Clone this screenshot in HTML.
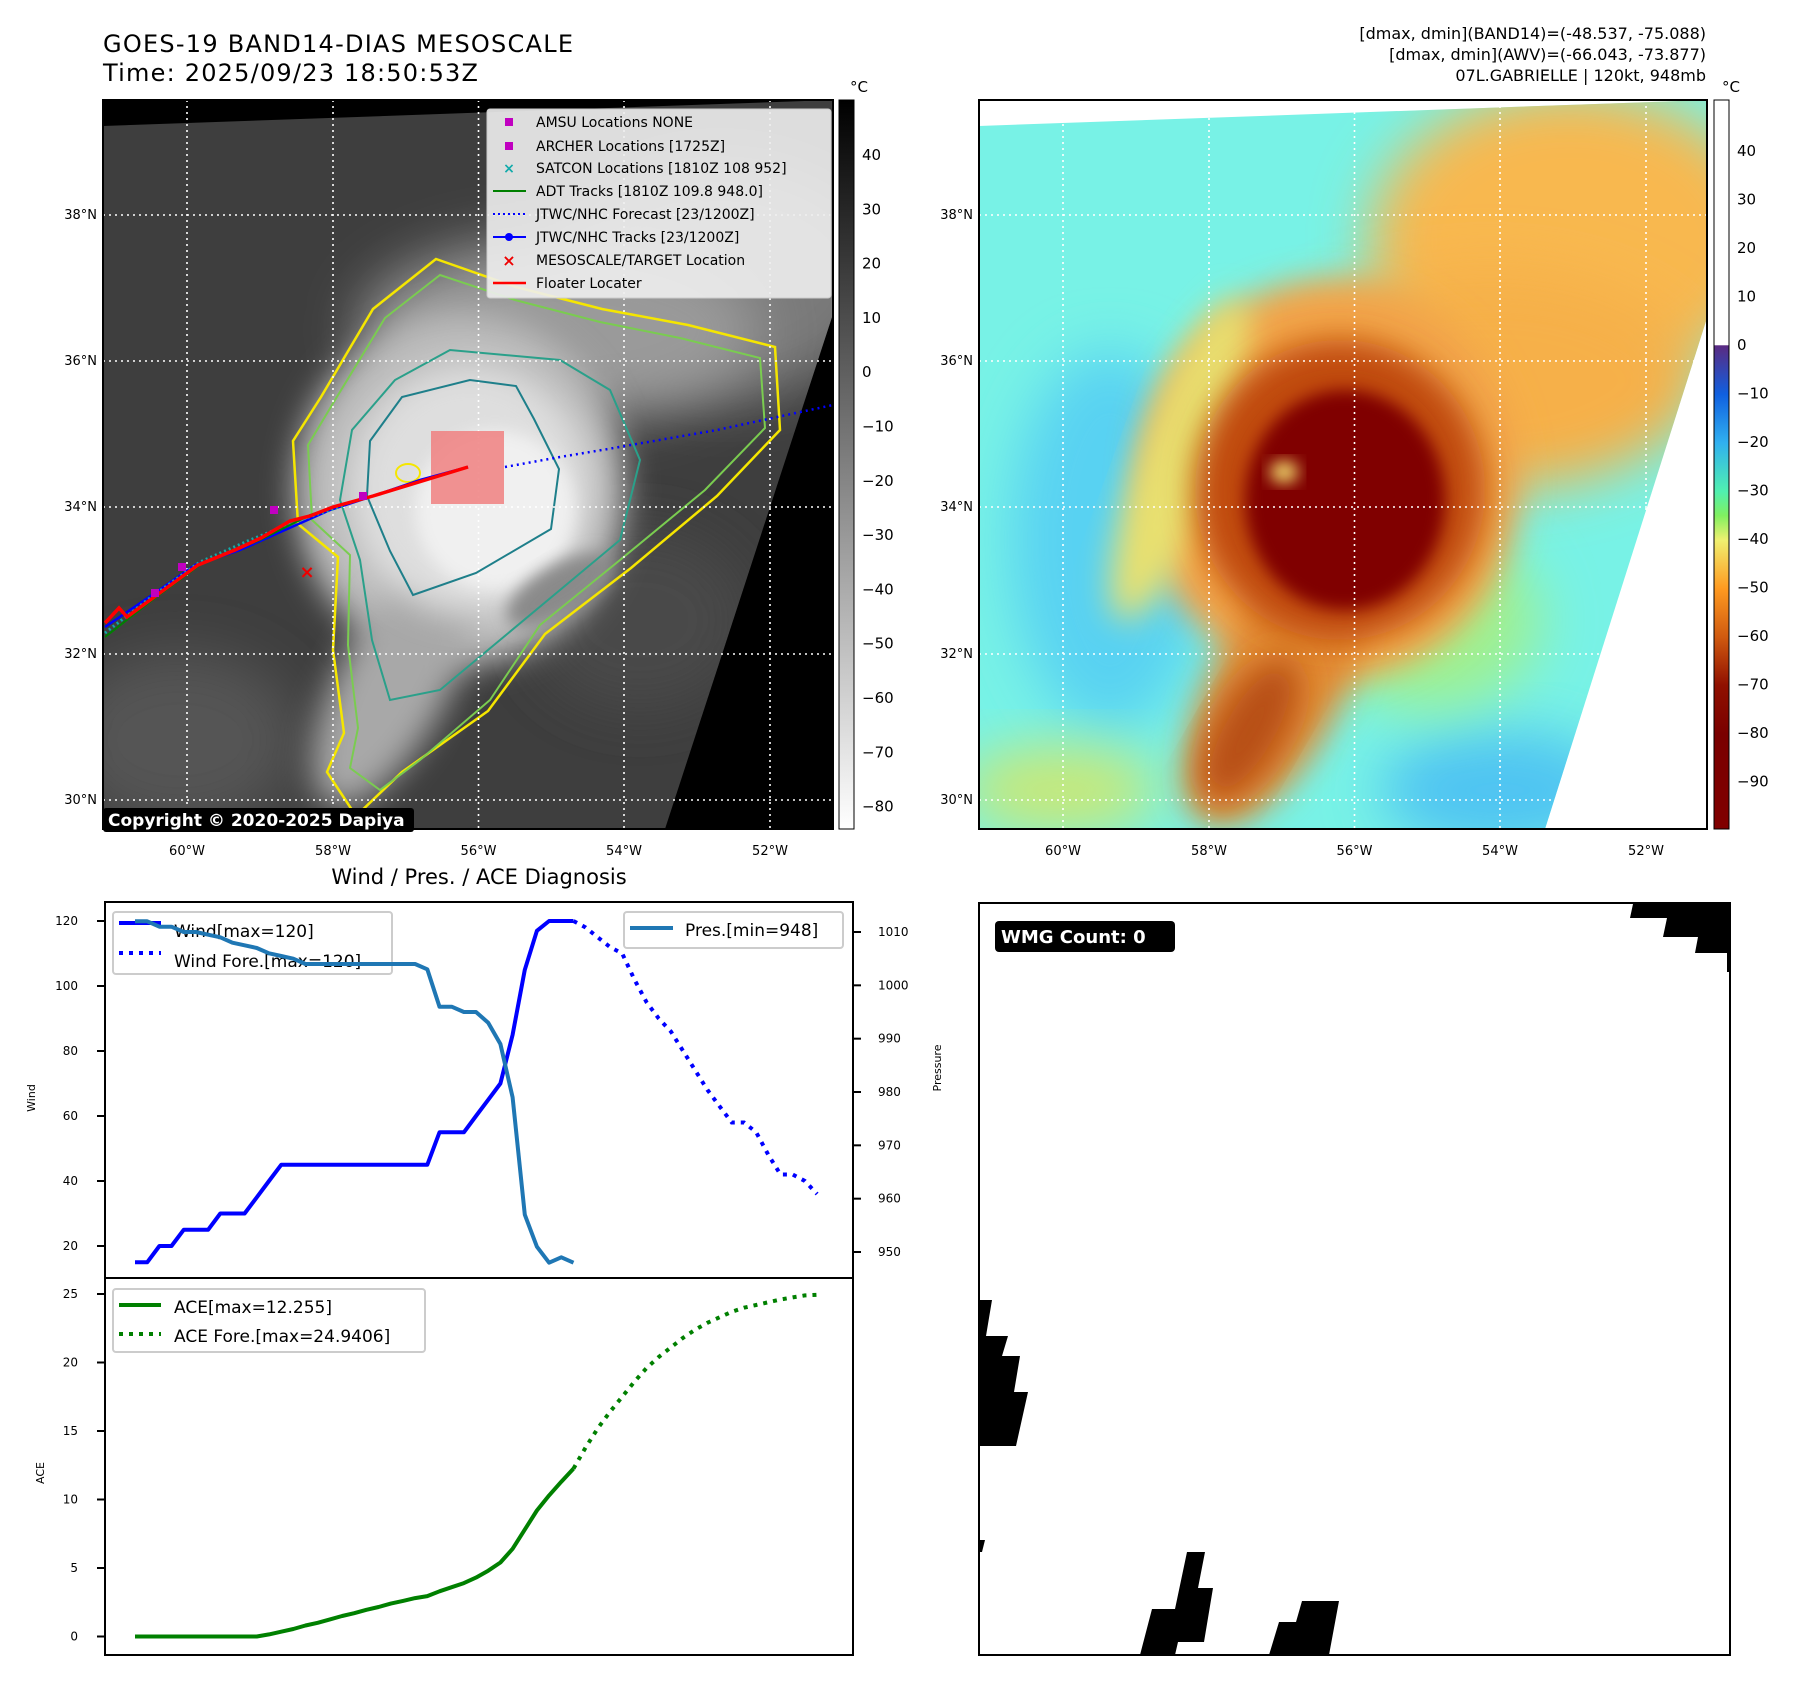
<!DOCTYPE html>
<html><head><meta charset="utf-8">
<style>
html,body{margin:0;padding:0;background:#fff;}
svg{display:block;font-family:"DejaVu Sans","Liberation Sans",sans-serif;}
</style></head>
<body>
<svg id="root" width="1797" height="1690" viewBox="0 0 1797 1690" xmlns="http://www.w3.org/2000/svg">
<defs>
  <filter id="b8" x="-30%" y="-30%" width="160%" height="160%"><feGaussianBlur stdDeviation="8"/></filter>
  <filter id="b16" x="-30%" y="-30%" width="160%" height="160%"><feGaussianBlur stdDeviation="16"/></filter>
  <filter id="b28" x="-40%" y="-40%" width="180%" height="180%"><feGaussianBlur stdDeviation="28"/></filter>
  <clipPath id="clipL"><polygon points="103,126 833,100 833,314 665,829 103,829"/></clipPath>
  <clipPath id="clipR"><polygon points="979,126 1707,100 1707,318 1545,829 979,829"/></clipPath>
  <linearGradient id="cbL" x1="0" y1="0" x2="0" y2="1">
    <stop offset="0" stop-color="#000"/><stop offset="1" stop-color="#fff"/>
  </linearGradient>
  <linearGradient id="cbR" x1="0" y1="0" x2="0" y2="1">
    <stop offset="0" stop-color="#fff"/><stop offset="0.336" stop-color="#fff"/>
    <stop offset="0.337" stop-color="#5a2a82"/><stop offset="0.404" stop-color="#1060e0"/>
    <stop offset="0.47" stop-color="#30b0f0"/><stop offset="0.537" stop-color="#50f0b0"/>
    <stop offset="0.57" stop-color="#80f060"/><stop offset="0.604" stop-color="#f0f070"/>
    <stop offset="0.67" stop-color="#ff9a20"/><stop offset="0.737" stop-color="#d05a10"/>
    <stop offset="0.803" stop-color="#901000"/><stop offset="0.87" stop-color="#7a0000"/>
    <stop offset="1" stop-color="#800000"/>
  </linearGradient>
</defs>

<text x="103" y="52" font-size="24" textLength="470">GOES-19 BAND14-DIAS MESOSCALE</text>
<text x="103" y="81" font-size="24" textLength="375">Time: 2025/09/23 18:50:53Z</text>
<g font-size="16" text-anchor="end">
  <text x="1706" y="39">[dmax, dmin](BAND14)=(-48.537, -75.088)</text>
  <text x="1706" y="60">[dmax, dmin](AWV)=(-66.043, -73.877)</text>
  <text x="1706" y="81">07L.GABRIELLE | 120kt, 948mb</text>
</g>

<g>
  <rect x="103" y="100" width="730" height="729" fill="#000"/>
  <g clip-path="url(#clipL)">
    <rect x="103" y="100" width="730" height="729" fill="#3e3e3e"/>
    <ellipse cx="180" cy="740" rx="120" ry="90" fill="#555" filter="url(#b28)"/>
    <ellipse cx="640" cy="620" rx="110" ry="90" fill="#4a4a4a" filter="url(#b28)"/>
    <ellipse cx="720" cy="280" rx="170" ry="120" fill="#7a7a7a" filter="url(#b28)"/>
    <ellipse cx="560" cy="330" rx="200" ry="90" fill="#9a9a9a" filter="url(#b28)"/>
    <ellipse cx="460" cy="490" rx="165" ry="175" fill="#bcbcbc" filter="url(#b16)"/>
    <ellipse cx="395" cy="680" rx="55" ry="140" transform="rotate(28 395 680)" fill="#a8a8a8" filter="url(#b16)"/>
    <ellipse cx="470" cy="490" rx="120" ry="125" fill="#dedede" filter="url(#b16)"/>
    <ellipse cx="495" cy="510" rx="80" ry="80" fill="#f0f0f0" filter="url(#b8)"/>
    <ellipse cx="560" cy="590" rx="60" ry="25" transform="rotate(-30 560 590)" fill="#8a8a8a" filter="url(#b8)"/>
    <path d="M436,259 L373,309 L321,397 L293,441 L298,524 L338,557 L333,650 L344,733 L327,772 L356,816 L402,772 L488,711 L545,634 L631,568 L717,496 L780,430 L775,347 L688,325 L602,309 L516,287 Z" fill="none" stroke="#f5e600" stroke-width="2.5"/>
    <path d="M440,275 L385,318 L335,400 L308,445 L312,520 L350,555 L348,645 L358,728 L350,768 L380,790 L420,760 L490,700 L540,625 L620,560 L705,490 L765,428 L760,358 L680,338 L600,322 L515,300 Z" fill="none" stroke="#7acc50" stroke-width="2"/>
    <path d="M450,350 L395,380 L352,430 L340,500 L360,560 L372,640 L390,700 L440,690 L500,640 L560,590 L620,540 L640,460 L610,390 L560,360 Z" fill="none" stroke="#2aa08a" stroke-width="2"/>
    <path d="M470,380 L402,397 L370,441 L367,496 L390,551 L413,595 L476,573 L551,529 L559,469 L534,419 L516,386 Z" fill="none" stroke="#1e7f8a" stroke-width="2"/>
    <ellipse cx="408" cy="473" rx="12" ry="9" fill="none" stroke="#f5e600" stroke-width="2"/>
  </g>
  <g stroke="#fff" stroke-width="1.6" stroke-dasharray="2,4">
    <line x1="187" y1="100" x2="187" y2="829"/><line x1="333" y1="100" x2="333" y2="829"/>
    <line x1="478.5" y1="100" x2="478.5" y2="829"/><line x1="624" y1="100" x2="624" y2="829"/>
    <line x1="770" y1="100" x2="770" y2="829"/>
    <line x1="103" y1="215" x2="833" y2="215"/><line x1="103" y1="361" x2="833" y2="361"/>
    <line x1="103" y1="507" x2="833" y2="507"/><line x1="103" y1="654" x2="833" y2="654"/>
    <line x1="103" y1="800" x2="833" y2="800"/>
  </g>
  <rect x="431" y="431" width="73" height="73" fill="#f08080" opacity="0.85"/>
  <polyline points="505,467 560,457 608,449 717,430 833,405" fill="none" stroke="#0000ff" stroke-width="2.5" stroke-dasharray="2,4"/>
  <polyline points="105,627 155,593 195,565 240,550 285,530 330,510 370,497 420,480 468,467" fill="none" stroke="#0000ff" stroke-width="2.5"/>
  <polyline points="105,633 150,598 200,562 250,540 300,520 345,505" fill="none" stroke="#11aaaa" stroke-width="3" stroke-dasharray="2,3"/>
  <polyline points="105,637 155,598 200,565 260,540 310,515 340,505" fill="none" stroke="#008000" stroke-width="2"/>
  <polyline points="105,623 119,608 127,617 172,584 198,565 235,550 261,538 290,521 310,516 333,507 373,496 468,467" fill="none" stroke="#ff0000" stroke-width="3.5"/>
  <g fill="#c000c0">
    <rect x="270" y="506" width="8" height="8"/><rect x="178" y="563" width="8" height="8"/>
    <rect x="151" y="589" width="8" height="8"/><rect x="359" y="492" width="8" height="8"/>
  </g>
  <text x="307" y="578" font-size="18" font-weight="bold" fill="#e00" text-anchor="middle">×</text>
  <g>
    <rect x="487" y="109" width="344" height="189" rx="3" fill="#eee" fill-opacity="0.9" stroke="#ccc"/>
    <g font-size="14" fill="#000">
      <rect x="505" y="118" width="8" height="8" fill="#c000c0"/><text x="536" y="127">AMSU Locations NONE</text>
      <rect x="505" y="142" width="8" height="8" fill="#c000c0"/><text x="536" y="151">ARCHER Locations [1725Z]</text>
      <text x="509" y="173" fill="#11aaaa" text-anchor="middle" font-weight="bold">×</text><text x="536" y="173">SATCON Locations [1810Z 108 952]</text>
      <line x1="493" y1="191" x2="526" y2="191" stroke="#008000" stroke-width="2"/><text x="536" y="196">ADT Tracks [1810Z 109.8 948.0]</text>
      <line x1="493" y1="214" x2="526" y2="214" stroke="#00f" stroke-width="2" stroke-dasharray="2,3"/><text x="536" y="219">JTWC/NHC Forecast [23/1200Z]</text>
      <line x1="493" y1="237" x2="526" y2="237" stroke="#00f" stroke-width="2"/><circle cx="509" cy="237" r="4" fill="#00f"/><text x="536" y="242">JTWC/NHC Tracks [23/1200Z]</text>
      <text x="509" y="266" fill="#e00" text-anchor="middle" font-weight="bold" font-size="16">×</text><text x="536" y="265">MESOSCALE/TARGET Location</text>
      <line x1="493" y1="283" x2="526" y2="283" stroke="#f00" stroke-width="2.5"/><text x="536" y="288">Floater Locater</text>
    </g>
  </g>
  <rect x="103" y="100" width="730" height="729" fill="none" stroke="#000" stroke-width="2"/>
  <rect x="103" y="808" width="311" height="24" rx="3" fill="#000"/>
  <text x="108" y="826" font-size="17" font-weight="bold" fill="#fff">Copyright © 2020-2025 Dapiya</text>
</g>
<g font-size="13">
  <text x="97" y="219" text-anchor="end">38°N</text><text x="97" y="365" text-anchor="end">36°N</text>
  <text x="97" y="511" text-anchor="end">34°N</text><text x="97" y="658" text-anchor="end">32°N</text>
  <text x="97" y="804" text-anchor="end">30°N</text>
  <text x="187" y="855" text-anchor="middle">60°W</text><text x="333" y="855" text-anchor="middle">58°W</text>
  <text x="478.5" y="855" text-anchor="middle">56°W</text><text x="624" y="855" text-anchor="middle">54°W</text>
  <text x="770" y="855" text-anchor="middle">52°W</text>
</g>
<g>
  <rect x="839" y="100" width="15" height="729" fill="url(#cbL)" stroke="#000" stroke-width="1"/>
  <text x="850" y="92" font-size="15">°C</text>
  <g font-size="15" id="cbLticks"></g>
</g>

<g>
  <rect x="979" y="100" width="728" height="729" fill="#fff"/>
  <g clip-path="url(#clipR)">
    <rect x="979" y="100" width="728" height="729" fill="#78f2e6"/>
    <ellipse cx="1110" cy="540" rx="100" ry="190" fill="#58d2f2" filter="url(#b28)"/>
    <ellipse cx="1500" cy="790" rx="120" ry="60" fill="#50c4f2" filter="url(#b28)"/>
    <ellipse cx="1060" cy="790" rx="100" ry="45" fill="#c8e878" filter="url(#b28)"/>
    <ellipse cx="1430" cy="620" rx="110" ry="90" fill="#a0f090" filter="url(#b28)"/>
    <ellipse cx="1570" cy="240" rx="200" ry="150" fill="#f8b850" filter="url(#b28)"/>
    <ellipse cx="1490" cy="380" rx="210" ry="110" fill="#f6b048" filter="url(#b28)"/>
    <ellipse cx="1330" cy="480" rx="190" ry="200" fill="#f2a448" filter="url(#b16)"/>
    <ellipse cx="1180" cy="460" rx="40" ry="170" transform="rotate(20 1180 460)" fill="#e8e070" filter="url(#b16)"/>
    <ellipse cx="1275" cy="690" rx="65" ry="150" transform="rotate(28 1275 690)" fill="#e28a30" filter="url(#b16)"/>
    <ellipse cx="1250" cy="730" rx="35" ry="80" transform="rotate(30 1250 730)" fill="#b85018" filter="url(#b16)"/>
    <ellipse cx="1340" cy="490" rx="145" ry="150" fill="#c04a10" filter="url(#b16)"/>
    <ellipse cx="1345" cy="500" rx="100" ry="110" fill="#800000" filter="url(#b8)"/>
    <ellipse cx="1284" cy="472" rx="14" ry="11" fill="#f4e070" filter="url(#b8)"/>
  </g>
  <g stroke="#fff" stroke-width="1.6" stroke-dasharray="2,4">
    <line x1="1063" y1="100" x2="1063" y2="829"/><line x1="1209" y1="100" x2="1209" y2="829"/>
    <line x1="1354.5" y1="100" x2="1354.5" y2="829"/><line x1="1500" y1="100" x2="1500" y2="829"/>
    <line x1="1646" y1="100" x2="1646" y2="829"/>
    <line x1="979" y1="215" x2="1707" y2="215"/><line x1="979" y1="361" x2="1707" y2="361"/>
    <line x1="979" y1="507" x2="1707" y2="507"/><line x1="979" y1="654" x2="1707" y2="654"/>
    <line x1="979" y1="800" x2="1707" y2="800"/>
  </g>
  <rect x="979" y="100" width="728" height="729" fill="none" stroke="#000" stroke-width="2"/>
</g>
<g font-size="13">
  <text x="973" y="219" text-anchor="end">38°N</text><text x="973" y="365" text-anchor="end">36°N</text>
  <text x="973" y="511" text-anchor="end">34°N</text><text x="973" y="658" text-anchor="end">32°N</text>
  <text x="973" y="804" text-anchor="end">30°N</text>
  <text x="1063" y="855" text-anchor="middle">60°W</text><text x="1209" y="855" text-anchor="middle">58°W</text>
  <text x="1354.5" y="855" text-anchor="middle">56°W</text><text x="1500" y="855" text-anchor="middle">54°W</text>
  <text x="1646" y="855" text-anchor="middle">52°W</text>
</g>
<g>
  <rect x="1714" y="100" width="15" height="729" fill="url(#cbR)" stroke="#000" stroke-width="1"/>
  <text x="1722" y="92" font-size="15">°C</text>
  <g font-size="15" id="cbRticks"></g>
</g>

<text x="479" y="884" font-size="21" text-anchor="middle">Wind / Pres. / ACE Diagnosis</text>
<g id="diag">
  <rect x="105" y="902" width="748" height="753" fill="#fff"/>
  <g id="marks"></g>
  <line x1="105" y1="1278" x2="853" y2="1278" stroke="#000" stroke-width="2"/>
  <rect x="105" y="902" width="748" height="753" fill="none" stroke="#000" stroke-width="2"/>
  <g id="ticks" font-size="12"></g>
  <text transform="translate(35,1098) rotate(-90)" font-size="11" text-anchor="middle">Wind</text>
  <text transform="translate(941,1068) rotate(-90)" font-size="11" text-anchor="middle">Pressure</text>
  <text transform="translate(44,1473) rotate(-90)" font-size="11" text-anchor="middle">ACE</text>
  <g>
    <rect x="113" y="912" width="279" height="62" rx="3" fill="#fff" fill-opacity="0.8" stroke="#ccc" stroke-width="2"/>
    <line x1="119" y1="923" x2="161" y2="923" stroke="#00f" stroke-width="4"/>
    <line x1="119" y1="953" x2="161" y2="953" stroke="#00f" stroke-width="4" stroke-dasharray="4,6"/>
    <text x="174" y="937" font-size="17">Wind[max=120]</text>
    <text x="174" y="967" font-size="17">Wind Fore.[max=120]</text>
  </g>
  <g id="presline"></g>
  <g>
    <rect x="624" y="912" width="219" height="36" rx="3" fill="#fff" fill-opacity="0.8" stroke="#ccc" stroke-width="2"/>
    <line x1="630" y1="928" x2="673" y2="928" stroke="#1f77b4" stroke-width="4"/>
    <text x="685" y="936" font-size="17">Pres.[min=948]</text>
  </g>
  <g>
    <rect x="113" y="1289" width="312" height="63" rx="3" fill="#fff" fill-opacity="0.8" stroke="#ccc" stroke-width="2"/>
    <line x1="119" y1="1305" x2="161" y2="1305" stroke="#008000" stroke-width="4"/>
    <line x1="119" y1="1334" x2="161" y2="1334" stroke="#008000" stroke-width="4" stroke-dasharray="4,6"/>
    <text x="174" y="1313" font-size="17">ACE[max=12.255]</text>
    <text x="174" y="1342" font-size="17">ACE Fore.[max=24.9406]</text>
  </g>
</g>

<g>
  <rect x="979" y="903" width="751" height="752" fill="#fff"/>
  <g fill="#000">
    <polygon points="1633,904 1730,904 1730,972 1727,972 1727,953 1695,953 1698,937 1663,937 1667,918 1630,918"/>
    <polygon points="980,1300 992,1300 986,1336 1008,1336 1002,1356 1020,1356 1014,1392 1028,1392 1016,1446 980,1446"/>
    <polygon points="980,1540 985,1540 982,1552 980,1552"/>
    <polygon points="1187,1552 1205,1552 1198,1588 1213,1588 1204,1642 1178,1642 1175,1655 1140,1655 1152,1609 1175,1609"/>
    <polygon points="1302,1601 1339,1601 1329,1655 1269,1655 1279,1622 1296,1622"/>
  </g>
  <rect x="979" y="903" width="751" height="752" fill="none" stroke="#000" stroke-width="2"/>
  <rect x="995" y="921" width="180" height="31" rx="4" fill="#000"/>
  <text x="1001" y="943" font-size="18" font-weight="bold" fill="#fff">WMG Count: 0</text>
</g>

<script>
const windObs = [15,15,20,20,25,25,25,30,30,30,35,40,45,45,45,45,45,45,45,45,45,45,45,45,45,55,55,55,60,65,70,85,105,117,120,120,120];
const windFore = [120,118,115,112,110,102,95,90,86,80,74,68,63,58,58,55,48,42,42,40,36];
const presObs = [1012,1012,1011,1011,1010,1010,1009.5,1009,1008,1007.5,1007,1006,1005.5,1005,1004,1004,1004,1004,1004,1004,1004,1004,1004,1004,1003,996,996,995,995,993,989,979,957,951,948,949,948];
const aceObs = [0,0,0,0,0,0,0,0,0,0,0,0.15,0.35,0.55,0.8,1.0,1.25,1.5,1.7,1.95,2.15,2.4,2.6,2.8,2.95,3.3,3.6,3.9,4.3,4.8,5.4,6.4,7.8,9.2,10.3,11.3,12.255];
const aceFore = [12.255,13.8,15.2,16.4,17.5,18.6,19.6,20.4,21.1,21.8,22.4,22.9,23.3,23.7,24.0,24.2,24.4,24.6,24.75,24.9,24.94];
const windTicks = [20,40,60,80,100,120];
const presTicks = [950,960,970,980,990,1000,1010];
const aceTicks = [0,5,10,15,20,25];
const cbLTicks = [40,30,20,10,0,-10,-20,-30,-40,-50,-60,-70,-80];
const cbRTicks = [40,30,20,10,0,-10,-20,-30,-40,-50,-60,-70,-80,-90];

const NS = 'http://www.w3.org/2000/svg';
const foreStart = windObs.length - 1;
function xS(i){ return 135 + i * 12.18; }
function yW(v){ return 1246 - (v - 20) * 3.25; }
function yP(v){ return 1252 - (v - 950) * (320/60); }
function yA(v){ return 1636.5 - v * 13.7; }
function yCL(v){ return 155 + (40 - v) * 5.43; }
function yCR(v){ return 151 + (40 - v) * 4.85; }

function mk(tag, attrs, parent){
  const e = document.createElementNS(NS, tag);
  for (const k in attrs) e.setAttribute(k, attrs[k]);
  parent.appendChild(e);
  return e;
}
function pts(arr, off, yf){ return arr.map((v,i)=> xS(i+off).toFixed(1)+','+yf(v).toFixed(1)).join(' '); }

const marks = document.getElementById('marks');
let e;
e = mk('polyline', {points: pts(windObs,0,yW), fill:'none', stroke:'#0000ff', 'stroke-width':4, 'stroke-linejoin':'round'}, marks);


e = mk('polyline', {points: pts(windFore,foreStart,yW), fill:'none', stroke:'#0000ff', 'stroke-width':4, 'stroke-dasharray':'4,6'}, marks);


e = mk('polyline', {points: pts(aceObs,0,yA), fill:'none', stroke:'#008000', 'stroke-width':4, 'stroke-linejoin':'round'}, marks);


e = mk('polyline', {points: pts(aceFore,foreStart,yA), fill:'none', stroke:'#008000', 'stroke-width':4, 'stroke-dasharray':'4,6'}, marks);


const pl = document.getElementById('presline');
e = mk('polyline', {points: pts(presObs,0,yP), fill:'none', stroke:'#1f77b4', 'stroke-width':4, 'stroke-linejoin':'round'}, pl);



const tk = document.getElementById('ticks');
windTicks.forEach(v=>{
  const g = mk('g', {}, tk);
  
  
  mk('line', {x1:97, x2:105, y1:yW(v), y2:yW(v), stroke:'#000', 'stroke-width':2}, g);
  const t = mk('text', {x:78, y:yW(v)+4, 'text-anchor':'end'}, g); t.textContent = v;
});
presTicks.forEach(v=>{
  const g = mk('g', {}, tk);
  
  
  mk('line', {x1:853, x2:861, y1:yP(v), y2:yP(v), stroke:'#000', 'stroke-width':2}, g);
  const t = mk('text', {x:878, y:yP(v)+4}, g); t.textContent = v;
});
aceTicks.forEach(v=>{
  const g = mk('g', {}, tk);
  
  
  mk('line', {x1:97, x2:105, y1:yA(v), y2:yA(v), stroke:'#000', 'stroke-width':2}, g);
  const t = mk('text', {x:78, y:yA(v)+4, 'text-anchor':'end'}, g); t.textContent = v;
});
const cl = document.getElementById('cbLticks');
cbLTicks.forEach(v=>{
  const t = mk('text', {x:862, y:yCL(v)+5}, cl);
  
  
  t.textContent = v < 0 ? '\u2212' + (-v) : v;
});
const cr = document.getElementById('cbRticks');
cbRTicks.forEach(v=>{
  const t = mk('text', {x:1737, y:yCR(v)+5}, cr);
  
  
  t.textContent = v < 0 ? '\u2212' + (-v) : v;
});
</script>
</svg>
</body></html>
